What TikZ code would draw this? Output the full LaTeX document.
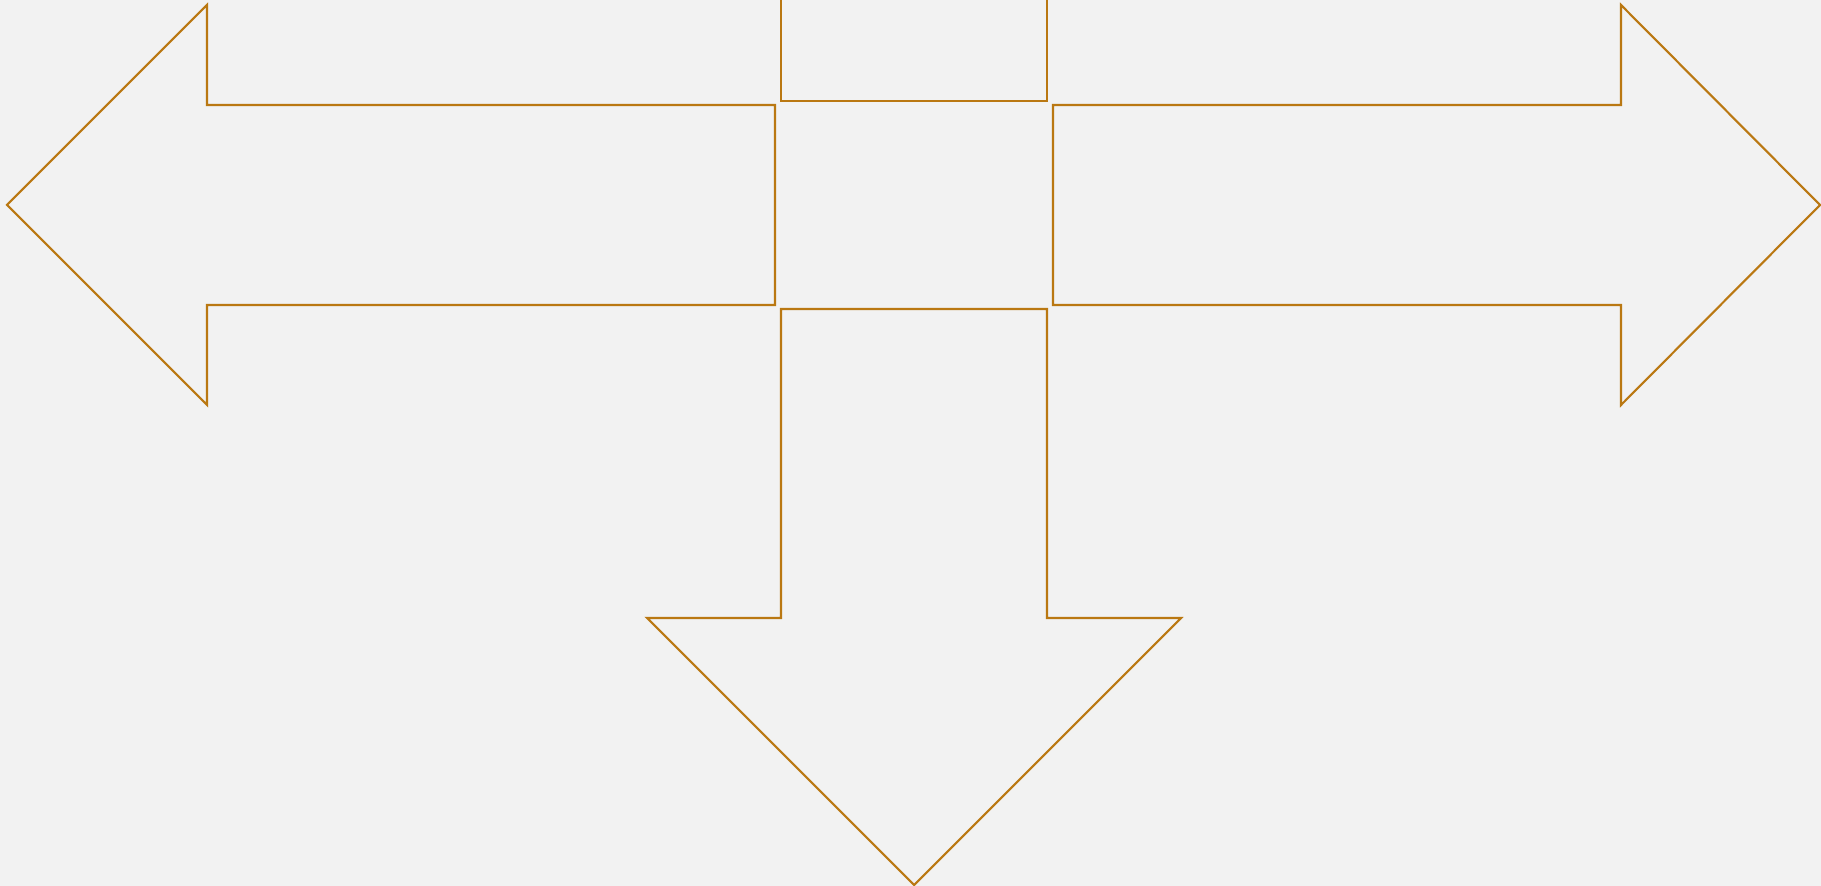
\documentclass[tikz,border=0pt]{standalone}
\usepackage{tikz}
\usetikzlibrary{calc}

\definecolor{bgray}{RGB}{242,242,242}
\definecolor{arrowbrown}{RGB}{186,120,18}

\tikzset{
  outline/.style={draw=arrowbrown, line width=0.6pt, line join=miter, fill=none}
}

\begin{document}
\begin{tikzpicture}[x=0.01cm, y=-0.01cm]

\fill[bgray] (0,0) rectangle (1821,886);
\useasboundingbox (0,0) rectangle (1821,886);
\clip (0,0) rectangle (1821,886);

\draw[outline] (7,205) -- (207,5) -- (207,105) -- (775,105) -- (775,305) -- (207,305) -- (207,405) -- cycle;

\draw[outline] (1820,205) -- (1621,5) -- (1621,105) -- (1053,105) -- (1053,305) -- (1621,305) -- (1621,405) -- cycle;

\draw[outline] (781,-5) -- (781,101) -- (1047,101) -- (1047,-5);

\draw[outline] (781,309) -- (1047,309) -- (1047,618) -- (1181,618) -- (914,885) -- (647,618) -- (781,618) -- cycle;

\end{tikzpicture}
\end{document}
